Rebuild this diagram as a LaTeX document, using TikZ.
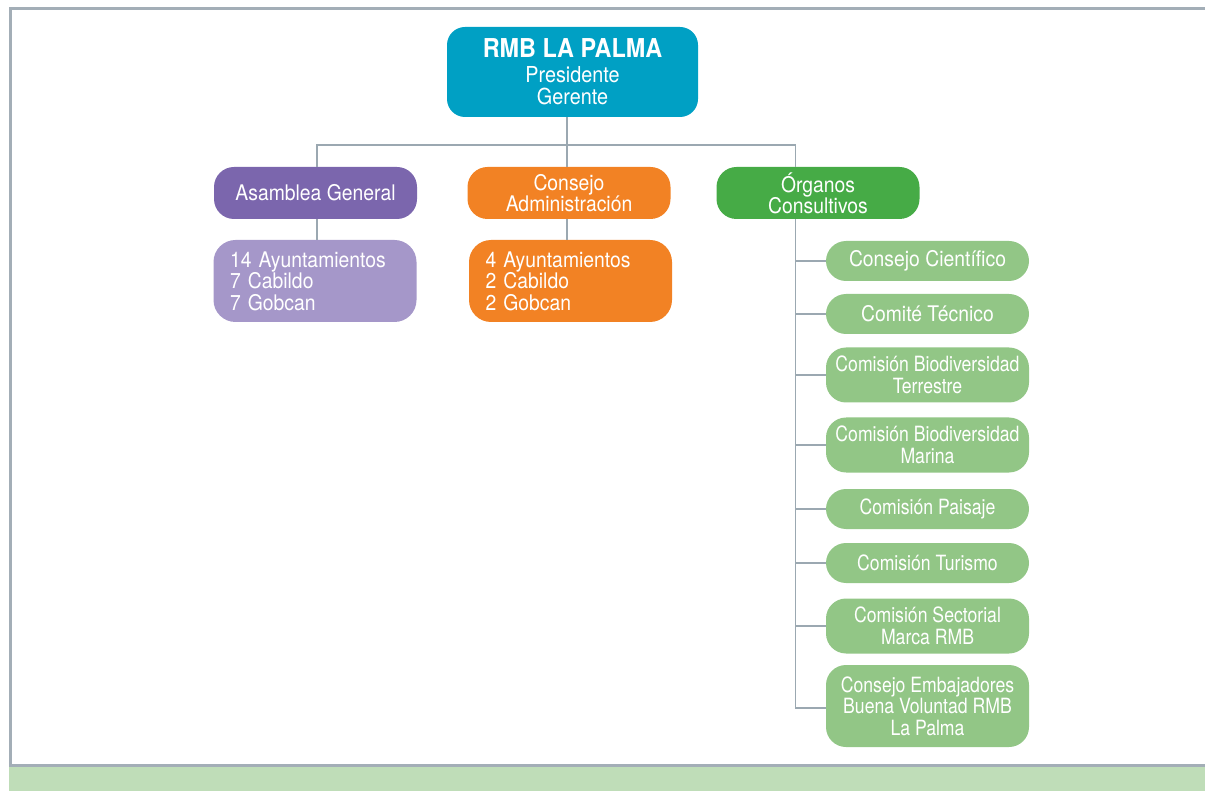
\documentclass[tikz,border=0pt]{standalone}
\usepackage{fontspec}
\setmainfont[FakeStretch=0.9]{TeX Gyre Heros}
\newfontfamily\narrowfont[FakeStretch=0.84]{TeX Gyre Heros}
\usepackage{tikz}

\definecolor{rmbblue}{HTML}{00A0C4}
\definecolor{asambleapurple}{HTML}{7B66AD}
\definecolor{asambleasoft}{HTML}{A597C9}
\definecolor{consejoorange}{HTML}{F28224}
\definecolor{organosgreen}{HTML}{46AB46}
\definecolor{organossoft}{HTML}{92C686}
\definecolor{linegray}{HTML}{9BA8B1}
\definecolor{framegray}{HTML}{A3AEB7}
\definecolor{bandgreen}{HTML}{BFDDB8}

\begin{document}
\begin{tikzpicture}[x=1pt,y=-1pt,
  box/.style={rounded corners=20pt, text=white, align=center, inner sep=0pt,
    minimum width=203pt, minimum height=52pt, font=\fontsize{21.5}{21}\selectfont},
  subbox/.style={box, minimum height=82pt, align=left, text width=170pt,
    rounded corners=22pt, font=\fontsize{21.5}{21.5}\selectfont},
  item/.style={box, fill=organossoft, minimum height=40pt,
    font=\narrowfont\fontsize{21}{21.5}\selectfont},
  wideitem/.style={item, font=\fontsize{21.5}{21.5}\selectfont},
  link/.style={draw=linegray, line width=1.5pt}]
\useasboundingbox (0,0) rectangle (1205,791);
% frame and bottom band
\fill[bandgreen] (9,767) rectangle (1205,791);
\draw[framegray, line width=3pt] (1205,8.5) -- (10.5,8.5) -- (10.5,765.5) -- (1205,765.5);
% top
\node[box, fill=rmbblue, minimum width=251pt, minimum height=90pt, rounded corners=18pt,
  font=\fontsize{22}{22}\selectfont] (rmb) at (572.5,72)
  {{\fontsize{26}{26}\selectfont\bfseries RMB LA PALMA}\\[3pt]Presidente\\Gerente};
% second level
\node[box, fill=asambleapurple] (asamblea) at (315.5,193) {Asamblea General};
\node[box, fill=consejoorange] (consejo) at (569,193) {Consejo\\Administración};
\node[box, fill=organosgreen] (organos) at (818,193) {Órganos\\Consultivos};
\node[subbox, fill=asambleasoft] (asambleamiembros) at (315,281)
  {14 Ayuntamientos\\7 Cabildo\\7 Gobcan};
\node[subbox, fill=consejoorange] (consejomiembros) at (570.5,281)
  {4 Ayuntamientos\\2 Cabildo\\2 Gobcan};
% consultive bodies
\node[wideitem] (cientifico) at (927.5,261) {Consejo Científico};
\node[wideitem] (tecnico) at (927.5,314) {Comité Técnico};
\node[item, minimum height=55pt] (terrestre) at (927.5,375) {Comisión Biodiversidad\\Terrestre};
\node[item, minimum height=55pt] (marina) at (927.5,445) {Comisión Biodiversidad\\Marina};
\node[item] (paisaje) at (927.5,509) {Comisión Paisaje};
\node[item] (turismo) at (927.5,563) {Comisión Turismo};
\node[item, minimum height=55pt] (marca) at (927.5,626) {Comisión Sectorial\\Marca RMB};
\node[item, minimum height=82pt] (embajadores) at (927.5,706)
  {Consejo Embajadores\\Buena Voluntad RMB\\La Palma};
% connectors
\coordinate (hub) at (567,145);
\coordinate (spine) at (795.5,708);
\draw[link] (rmb.south -| hub) -- (hub);
\draw[link] (asamblea.north -| 317,0) |- (hub) -| (organos.north -| spine);
\draw[link] (consejo.north -| hub) -- (hub);
\draw[link] (asamblea.south -| 317,0) -- (asambleamiembros.north -| 317,0);
\draw[link] (consejo.south -| hub) -- (consejomiembros.north -| hub);
\draw[link] (organos.south -| spine) -- (spine) -- (embajadores.west |- spine);
\draw[link] (cientifico.west -| spine) -- (cientifico.west);
\draw[link] (tecnico.west -| spine) -- (tecnico.west);
\draw[link] (terrestre.west -| spine) -- (terrestre.west);
\draw[link] (marina.west -| spine) -- (marina.west);
\draw[link] (paisaje.west -| spine) -- (paisaje.west);
\draw[link] (turismo.west -| spine) -- (turismo.west);
\draw[link] (marca.west -| spine) -- (marca.west);
\end{tikzpicture}
\end{document}
